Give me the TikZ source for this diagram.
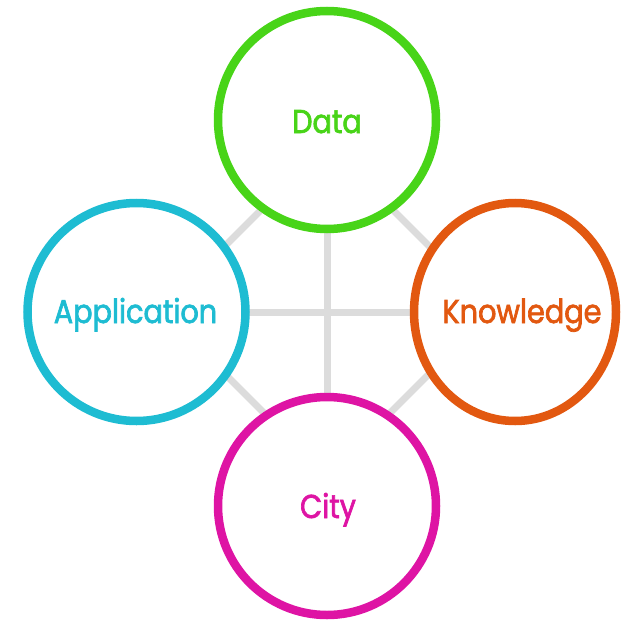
\documentclass[tikz,border=0pt]{standalone}
\usepackage{fontspec}
\setmainfont{Poppins}[FakeStretch=0.87,FakeBold=2]
\usetikzlibrary{shapes.geometric}
\definecolor{cdata}{RGB}{72,212,24}
\definecolor{capp}{RGB}{30,188,210}
\definecolor{cknow}{RGB}{226,88,16}
\definecolor{ccity}{RGB}{222,20,164}
\definecolor{cgray}{RGB}{220,220,220}
\begin{document}
\begin{tikzpicture}[x=1pt,y=-1pt,
  ring/.style={circle,draw=#1,line width=8.5pt,fill=white,minimum size=218pt,inner sep=0pt},
  lbl/.style={anchor=base,text=#1,font=\fontsize{33}{38}\selectfont,inner sep=0pt},
  link/.style={draw=cgray,line width=7pt}]
\useasboundingbox (0,0) rectangle (621,623);
\coordinate (dt) at (327,144);
\coordinate (dr) at (493,310);
\coordinate (db) at (327,476);
\coordinate (dl) at (161,310);
\coordinate (cd) at (327,120);
\coordinate (cc) at (327,506);
\coordinate (ca) at (136.5,312);
\coordinate (ck) at (515,312);
\path[link] (cd) -- (cc);
\path[link] (ca) -- (ck);
\path[link] (dt) -- (dr) -- (db) -- (dl) -- cycle;
\node[ring=cdata] (data) at (cd) {};
\node[ring=capp] (app) at (ca) {};
\node[ellipse,draw=cknow,line width=8.5pt,fill=white,minimum width=202pt,minimum height=218pt,inner sep=0pt] (know) at (ck) {};
\node[ring=ccity] (city) at (cc) {};
\node[lbl=cdata] (tdata) at (327,133) {Data};
\node[lbl=capp] (tapp) at (135.5,323) {Application};
\node[lbl=cknow] (tknow) at (522,323) {Knowledge};
\node[lbl=ccity] (tcity) at (328,518) {City};
\end{tikzpicture}
\end{document}
